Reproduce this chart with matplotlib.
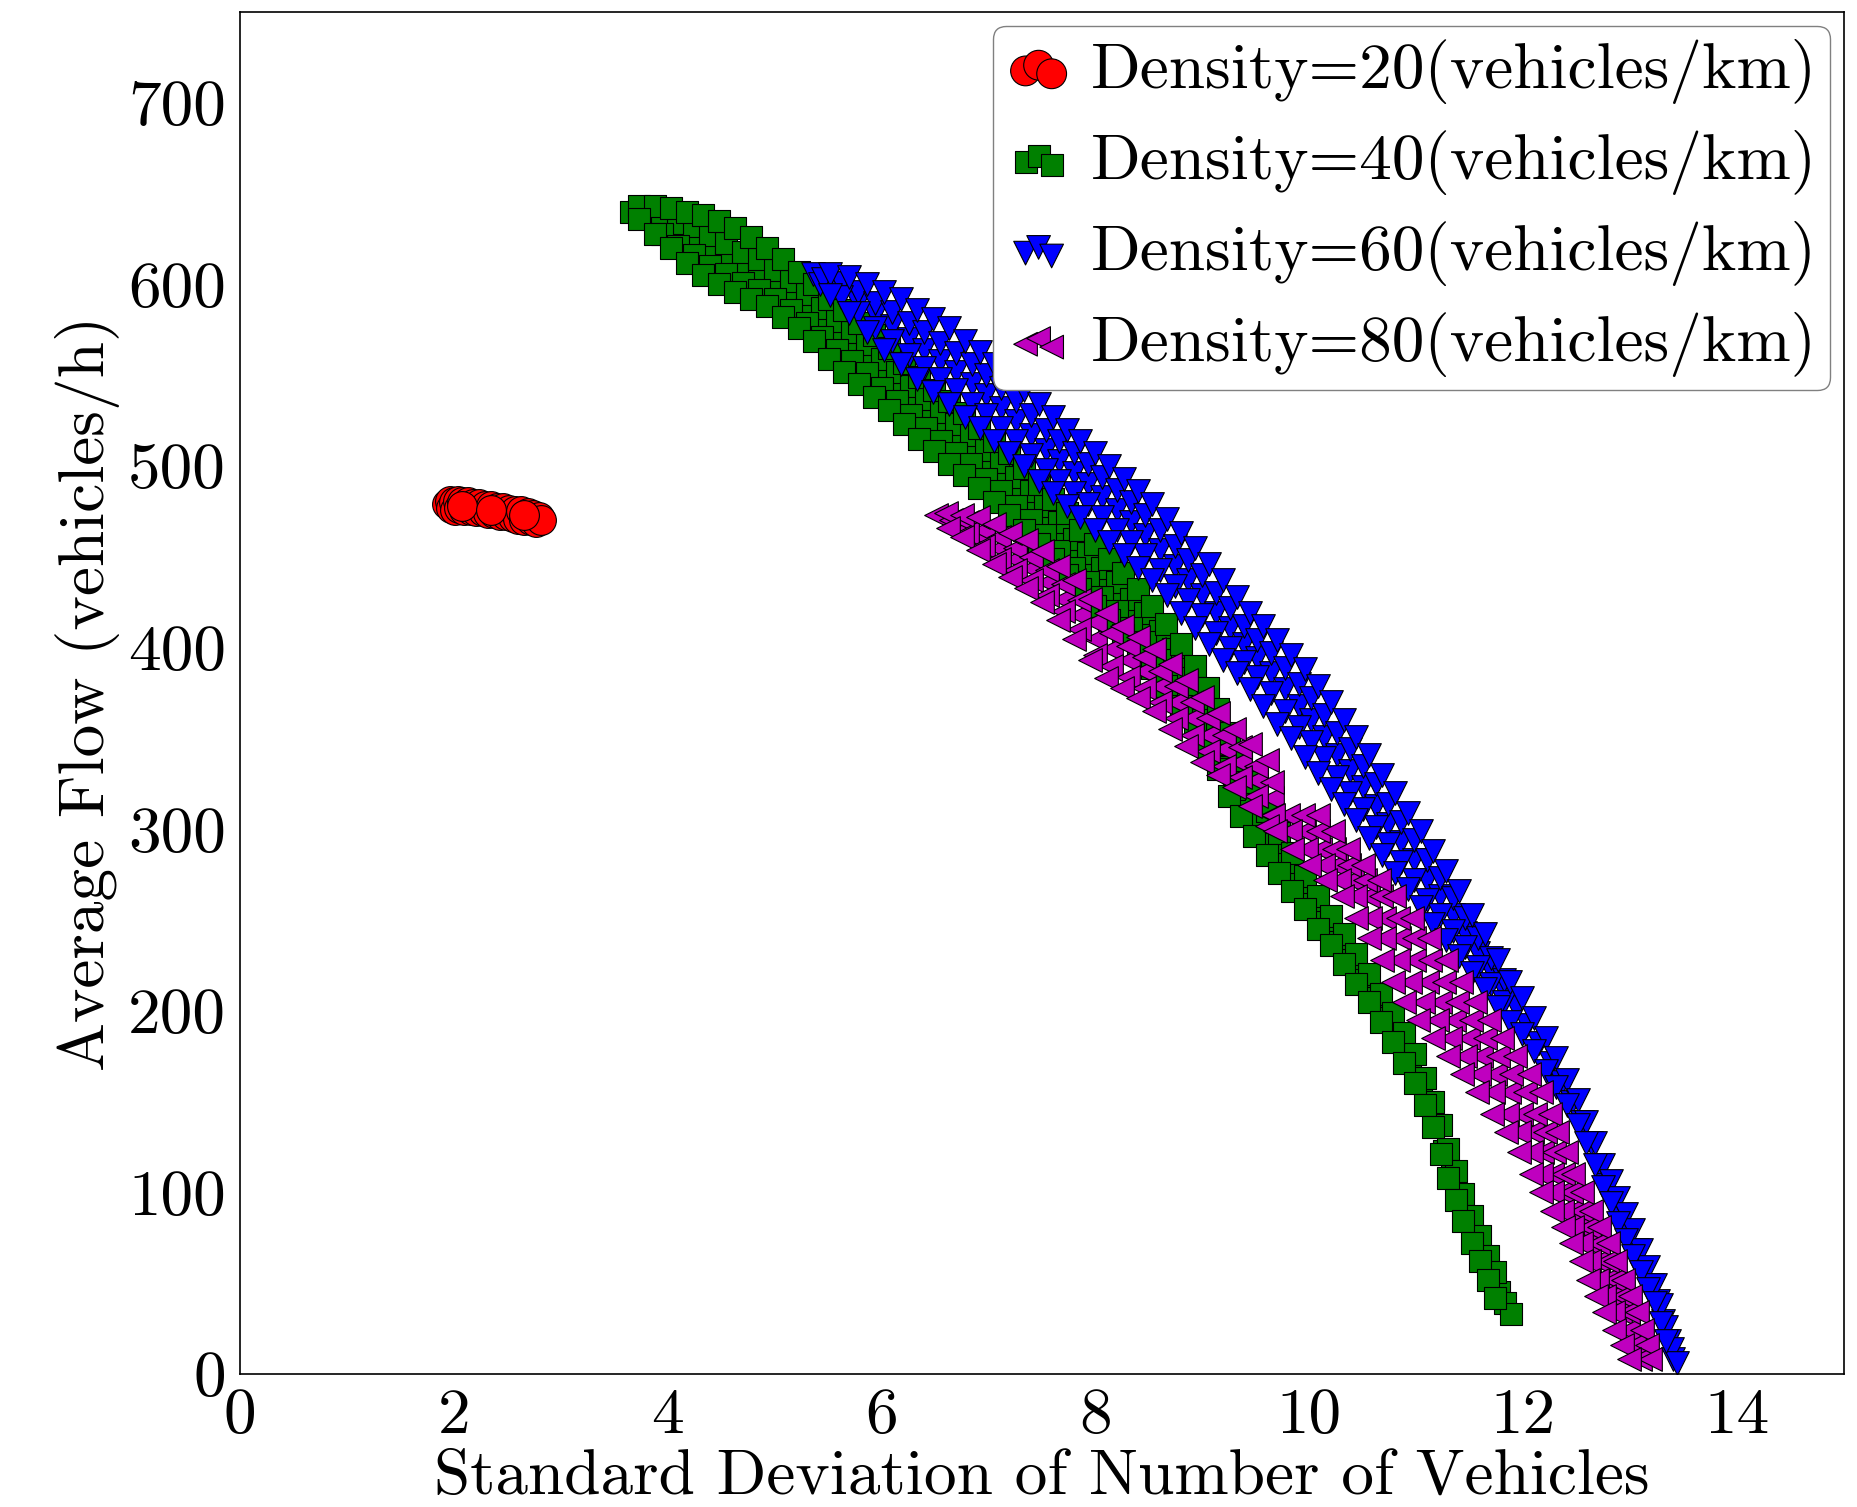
import matplotlib
matplotlib.use("Agg")
import matplotlib.pyplot as plt

plt.rcParams["font.family"] = "serif"
plt.rcParams["font.serif"] = ["cmr10"]
plt.rcParams["mathtext.fontset"] = "cm"
plt.rcParams["axes.unicode_minus"] = False

labels = ["Density=20(vehicles/km)", "Density=40(vehicles/km)",
          "Density=60(vehicles/km)", "Density=80(vehicles/km)"]

# (std of number of vehicles, average flow)
red_pts = [(1.94, 479), (1.96, 481), (1.97, 477), (2.00, 480), (2.01, 476), (2.04, 481),
           (2.05, 477), (2.08, 480), (2.10, 476), (2.13, 480), (2.16, 476), (2.18, 479),
           (2.21, 475), (2.24, 479), (2.27, 475), (2.29, 478), (2.32, 474), (2.35, 478),
           (2.38, 474), (2.40, 477), (2.43, 473), (2.46, 477), (2.49, 473), (2.52, 476),
           (2.55, 472), (2.57, 475), (2.60, 471), (2.63, 475), (2.66, 470), (2.69, 474),
           (2.72, 470), (2.74, 473), (2.77, 469), (2.80, 472), (2.82, 470),
           (2.08, 478), (2.35, 476), (2.66, 473)]

green_pts = [
    # middle of the band
    (3.66, 640), (3.80, 637), (3.95, 633), (4.10, 628), (4.25, 624), (4.40, 619), (4.55, 615),
    (4.70, 610), (4.85, 606), (5.00, 600), (5.15, 594), (5.30, 587), (5.44, 579), (5.58, 572),
    (5.72, 566), (5.86, 559), (6.00, 551), (6.14, 544), (6.28, 536), (6.42, 529), (6.56, 522),
    (6.70, 515), (6.84, 509), (6.98, 501), (7.12, 494), (7.26, 486), (7.40, 478), (7.53, 470),
    (7.66, 461), (7.80, 452), (7.93, 444), (8.06, 436), (8.20, 428), (8.33, 419), (8.46, 411),
    (8.60, 401), (8.73, 391), (8.86, 380), (9.00, 368), (9.10, 355), (9.20, 342), (9.30, 330),
    (9.42, 317), (9.54, 304), (9.66, 292), (9.78, 281), (9.90, 270), (10.02, 259), (10.14, 249),
    (10.26, 238), (10.38, 228), (10.50, 217), (10.61, 207), (10.72, 196), (10.83, 185),
    (10.94, 173), (11.04, 161), (11.12, 150), (11.19, 137), (11.26, 123), (11.33, 110),
    (11.40, 97), (11.48, 85), (11.56, 74), (11.63, 64), (11.70, 54), (11.77, 45), (11.83, 39),
    (11.89, 33),
    # upper half
    (3.95, 638), (4.10, 634), (4.25, 632), (4.40, 627), (4.55, 623), (4.70, 618), (4.85, 614),
    (5.00, 608), (5.15, 602), (5.30, 595), (5.44, 587), (5.58, 580), (5.72, 574), (5.86, 567),
    (6.00, 559), (6.14, 552), (6.28, 544), (6.42, 537), (6.56, 530), (6.70, 523), (6.84, 517),
    (6.98, 509), (7.12, 502), (7.26, 494), (7.40, 486), (7.53, 478), (7.66, 469), (7.80, 460),
    (7.93, 452), (8.06, 444), (8.20, 436), (8.33, 427), (8.46, 419), (8.60, 409), (8.73, 399),
    (8.86, 388), (9.00, 376), (9.10, 363), (9.20, 350), (9.30, 338),
    # lower half
    (3.95, 628), (4.10, 621), (4.25, 616), (4.40, 610), (4.55, 606), (4.70, 601), (4.85, 597),
    (5.00, 592), (5.15, 586), (5.30, 579), (5.44, 571), (5.58, 564), (5.72, 558), (5.86, 551),
    (6.00, 543), (6.14, 536), (6.28, 528), (6.42, 521), (6.56, 514), (6.70, 507), (6.84, 501),
    (6.98, 493), (7.12, 486), (7.26, 478), (7.40, 470), (7.53, 462), (7.66, 453), (7.80, 444),
    (7.93, 436), (8.06, 428), (8.20, 420), (8.33, 411), (8.46, 403), (8.60, 393), (8.73, 383),
    (8.86, 372), (9.00, 360), (9.10, 347), (9.20, 334), (9.30, 322),
    # upper edge
    (3.73, 643), (3.88, 643), (4.03, 642), (4.18, 640), (4.33, 638), (4.48, 635), (4.63, 631),
    (4.78, 626), (4.93, 620), (5.08, 614), (5.23, 607), (5.37, 600), (5.51, 592), (5.65, 586),
    (5.79, 579), (5.93, 572), (6.07, 565), (6.21, 557), (6.35, 549), (6.49, 542), (6.63, 536),
    (6.77, 529), (6.91, 521), (7.05, 514), (7.19, 507), (7.33, 499), (7.47, 490), (7.60, 482),
    (7.73, 474), (7.86, 465), (8.00, 457), (8.13, 449), (8.26, 441), (8.40, 432), (8.53, 423),
    (8.66, 413), (8.80, 402), (8.93, 390), (9.05, 378), (9.15, 366), (9.25, 353), (9.36, 341),
    (9.48, 326), (9.60, 310), (9.72, 298), (9.84, 287), (9.96, 274), (10.08, 263), (10.20, 252),
    (10.32, 242), (10.44, 231), (10.56, 220), (10.67, 209), (10.78, 199), (10.89, 188),
    (10.99, 176), (11.08, 163), (11.16, 150), (11.23, 137), (11.30, 124), (11.37, 112),
    (11.44, 99), (11.52, 87), (11.60, 76), (11.67, 65), (11.74, 56),
    # lower edge
    (3.73, 636), (3.88, 628), (4.03, 620), (4.18, 612), (4.33, 605), (4.48, 600), (4.63, 596),
    (4.78, 592), (4.93, 588), (5.08, 582), (5.23, 576), (5.37, 569), (5.51, 559), (5.65, 552),
    (5.79, 545), (5.93, 538), (6.07, 531), (6.21, 523), (6.35, 515), (6.49, 508), (6.63, 501),
    (6.77, 495), (6.91, 488), (7.05, 480), (7.19, 473), (7.33, 465), (7.47, 457), (7.60, 449),
    (7.73, 440), (7.86, 432), (8.00, 423), (8.13, 415), (8.26, 407), (8.40, 398), (8.53, 389),
    (8.66, 379), (8.80, 368), (8.93, 357), (9.05, 345), (9.15, 333), (9.25, 318), (9.36, 307),
    (9.48, 296), (9.60, 286), (9.72, 276), (9.84, 266), (9.96, 256), (10.08, 245), (10.20, 236),
    (10.32, 226), (10.44, 215), (10.56, 205), (10.67, 194), (10.78, 183), (10.89, 171),
    (10.99, 160), (11.08, 148), (11.16, 136), (11.23, 121), (11.30, 108), (11.37, 96),
    (11.44, 84), (11.52, 72), (11.60, 62), (11.67, 52), (11.74, 42),
]

blue_pts = [
    # middle
    (5.36, 606), (5.42, 600),
    (5.45, 603), (5.62, 597), (5.78, 590), (5.94, 583), (6.10, 577), (6.26, 570), (6.40, 564),
    (6.55, 558), (6.70, 552), (6.85, 545), (6.98, 539), (7.12, 532), (7.26, 525), (7.40, 517),
    (7.54, 509), (7.66, 503), (7.80, 496), (7.93, 490), (8.06, 483), (8.20, 476), (8.33, 469),
    (8.46, 462), (8.60, 454), (8.74, 445), (8.87, 437), (9.00, 429), (9.13, 419), (9.26, 411),
    (9.39, 402), (9.51, 394), (9.64, 386), (9.77, 377), (9.90, 368), (10.02, 360), (10.14, 351),
    (10.26, 341), (10.38, 332), (10.50, 323), (10.62, 313), (10.74, 303), (10.86, 293),
    (10.98, 283), (11.10, 272), (11.22, 263), (11.34, 253), (11.46, 243), (11.58, 232),
    (11.70, 222), (11.82, 211), (11.93, 202), (12.04, 192), (12.15, 182), (12.26, 171),
    (12.36, 161), (12.46, 150), (12.55, 139), (12.63, 127), (12.71, 115), (12.78, 104),
    (12.85, 95), (12.92, 86), (12.99, 78), (13.06, 68), (13.13, 58), (13.20, 49), (13.26, 40),
    (13.31, 29), (13.36, 18), (13.40, 8),
    # upper half
    (5.62, 601), (5.78, 596), (5.94, 590), (6.10, 585), (6.26, 579), (6.40, 574), (6.55, 568),
    (6.70, 562), (6.85, 556), (6.98, 550), (7.12, 543), (7.26, 536), (7.40, 528), (7.54, 520),
    (7.66, 514), (7.80, 507), (7.93, 501), (8.06, 494), (8.20, 487), (8.33, 480), (8.46, 473),
    (8.60, 465), (8.74, 456), (8.87, 448), (9.00, 440), (9.13, 430), (9.26, 422), (9.39, 412),
    (9.51, 404), (9.64, 397), (9.77, 389), (9.90, 380), (10.02, 372), (10.14, 363), (10.26, 353),
    (10.38, 344), (10.50, 335), (10.62, 325), (10.74, 314), (10.86, 304), (10.98, 294),
    (11.10, 283), (11.22, 273), (11.34, 262), (11.46, 251), (11.58, 240), (11.70, 229),
    (11.82, 217),
    # lower half
    (5.62, 593), (5.78, 584), (5.94, 576), (6.10, 569), (6.26, 561), (6.40, 554), (6.55, 548),
    (6.70, 542), (6.85, 534), (6.98, 528), (7.12, 521), (7.26, 514), (7.40, 506), (7.54, 498),
    (7.66, 492), (7.80, 485), (7.93, 479), (8.06, 472), (8.20, 465), (8.33, 458), (8.46, 451),
    (8.60, 443), (8.74, 434), (8.87, 426), (9.00, 418), (9.13, 408), (9.26, 400), (9.39, 392),
    (9.51, 384), (9.64, 375), (9.77, 365), (9.90, 356), (10.02, 348), (10.14, 339), (10.26, 329),
    (10.38, 320), (10.50, 311), (10.62, 301), (10.74, 292), (10.86, 282), (10.98, 272),
    (11.10, 261), (11.22, 253), (11.34, 244), (11.46, 235), (11.58, 224), (11.70, 215),
    (11.82, 205),
    # upper edge
    (5.52, 606), (5.70, 604), (5.86, 600), (6.02, 596), (6.18, 592), (6.33, 586), (6.48, 581),
    (6.63, 576), (6.78, 569), (6.92, 563), (7.05, 556), (7.19, 549), (7.33, 542), (7.47, 534),
    (7.60, 527), (7.73, 520), (7.86, 514), (8.00, 507), (8.13, 500), (8.27, 493), (8.40, 486),
    (8.53, 479), (8.67, 471), (8.80, 463), (8.93, 455), (9.06, 446), (9.19, 437), (9.32, 428),
    (9.45, 419), (9.57, 412), (9.70, 404), (9.83, 396), (9.96, 388), (10.08, 379), (10.20, 370),
    (10.32, 360), (10.44, 351), (10.56, 341), (10.68, 330), (10.80, 320), (10.92, 309),
    (11.04, 299), (11.16, 288), (11.28, 277), (11.40, 266), (11.52, 253), (11.64, 242),
    (11.76, 228), (11.88, 216), (11.99, 207), (12.10, 196), (12.21, 185), (12.31, 174),
    (12.41, 162), (12.51, 151), (12.59, 139), (12.67, 127), (12.75, 115), (12.82, 106),
    (12.89, 97), (12.96, 88), (13.03, 79), (13.10, 68), (13.17, 59), (13.23, 49), (13.29, 38),
    (13.34, 26), (13.39, 14), (13.44, 6),
    # lower edge
    (5.52, 594), (5.70, 584), (5.86, 574), (6.02, 564), (6.18, 556), (6.33, 548), (6.48, 541),
    (6.63, 534), (6.78, 527), (6.92, 521), (7.05, 514), (7.19, 507), (7.33, 500), (7.47, 492),
    (7.60, 485), (7.73, 478), (7.86, 472), (8.00, 465), (8.13, 458), (8.27, 451), (8.40, 444),
    (8.53, 437), (8.67, 429), (8.80, 419), (8.93, 411), (9.06, 402), (9.19, 393), (9.32, 386),
    (9.45, 377), (9.57, 368), (9.70, 358), (9.83, 350), (9.96, 340), (10.08, 331), (10.20, 322),
    (10.32, 314), (10.44, 305), (10.56, 295), (10.68, 286), (10.80, 276), (10.92, 267),
    (11.04, 257), (11.16, 248), (11.28, 239), (11.40, 230), (11.52, 221), (11.64, 212),
    (11.76, 202), (11.88, 194), (11.99, 187), (12.10, 178), (12.21, 167), (12.31, 158),
    (12.41, 148), (12.51, 137), (12.59, 127), (12.67, 115), (12.75, 103), (12.82, 94),
    (12.89, 83), (12.96, 74), (13.03, 65), (13.10, 56), (13.17, 47), (13.23, 39), (13.29, 28),
    (13.34, 18),
]

magenta_pts = [
    # middle
    (6.51, 473), (6.65, 470), (6.80, 466), (6.95, 461), (7.10, 455), (7.25, 449), (7.40, 444),
    (7.55, 436), (7.70, 427), (7.85, 418), (8.00, 405), (8.15, 399), (8.30, 393), (8.45, 387),
    (8.60, 379), (8.75, 370), (8.90, 361), (9.05, 352), (9.20, 344), (9.35, 337), (9.50, 327),
    (9.65, 317), (9.80, 308), (9.95, 299), (10.10, 289), (10.25, 280), (10.40, 272),
    (10.55, 263), (10.70, 251), (10.84, 240), (10.98, 228), (11.10, 216), (11.22, 205),
    (11.35, 195), (11.48, 185), (11.61, 175), (11.74, 165), (11.87, 155), (11.98, 143),
    (12.08, 133), (12.18, 122), (12.27, 110), (12.36, 100), (12.45, 90), (12.54, 81),
    (12.62, 72), (12.70, 62), (12.77, 52), (12.84, 43), (12.91, 34), (12.98, 24), (13.04, 16),
    (13.09, 8),
    # upper half
    (6.80, 469), (6.95, 465), (7.10, 461), (7.25, 455), (7.40, 450), (7.55, 443), (7.70, 435),
    (7.85, 426), (8.00, 414), (8.15, 408), (8.30, 401), (8.45, 395), (8.60, 387), (8.75, 379),
    (8.90, 370), (9.05, 361), (9.20, 352), (9.35, 345), (9.50, 335), (9.65, 326),
    (9.94, 308), (10.08, 299), (10.23, 289), (10.37, 280), (10.52, 272), (10.67, 263),
    (10.83, 251), (10.98, 240), (11.13, 228), (11.26, 216), (11.38, 205), (11.51, 195),
    (11.64, 185), (11.76, 175), (11.89, 165), (12.02, 155), (12.11, 143), (12.20, 133),
    (12.29, 122), (12.37, 110), (12.45, 100), (12.54, 90), (12.62, 81), (12.70, 72),
    (12.78, 62), (12.85, 52), (12.92, 43), (12.98, 34),
    # lower half
    (6.80, 463), (6.95, 456), (7.10, 449), (7.25, 443), (7.40, 437), (7.55, 429), (7.70, 420),
    (7.85, 410), (8.00, 396), (8.15, 390), (8.30, 384), (8.45, 378), (8.60, 370), (8.75, 361),
    (8.90, 352), (9.05, 343), (9.20, 335), (9.35, 329), (9.50, 318), (9.65, 308),
    (9.66, 308), (9.82, 299), (9.97, 289), (10.13, 280), (10.28, 272), (10.43, 263),
    (10.57, 251), (10.70, 240), (10.83, 228), (10.94, 216), (11.06, 205), (11.19, 195),
    (11.32, 185), (11.46, 175), (11.59, 165), (11.72, 155), (11.85, 143), (11.96, 133),
    (12.07, 122), (12.17, 110), (12.27, 100), (12.36, 90), (12.46, 81), (12.54, 72),
    (12.62, 62), (12.69, 52), (12.76, 43), (12.84, 34),
    # upper / right edge
    (6.60, 474), (6.75, 473), (6.90, 472), (7.05, 468), (7.20, 463), (7.35, 459), (7.50, 453),
    (7.65, 445), (7.80, 437), (7.95, 427), (8.10, 419), (8.25, 412), (8.40, 406), (8.55, 399),
    (8.70, 391), (8.85, 382), (9.00, 373), (9.15, 364), (9.30, 355), (9.45, 347), (9.60, 338),
    (10.08, 308), (10.22, 299), (10.36, 289), (10.50, 280), (10.65, 272), (10.79, 263),
    (10.96, 251), (11.12, 240), (11.28, 228), (11.42, 216), (11.55, 205), (11.68, 195),
    (11.80, 185), (11.92, 175), (12.05, 165), (12.17, 155), (12.25, 143), (12.32, 133),
    (12.40, 122), (12.47, 110), (12.55, 100), (12.63, 90), (12.71, 81), (12.79, 72),
    (12.86, 62), (12.93, 52), (13.00, 43), (13.06, 34), (13.11, 24), (13.16, 16), (13.19, 8),
    # lower / left edge
    (6.62, 466), (6.75, 461), (6.90, 454), (7.05, 446), (7.20, 439), (7.35, 433), (7.50, 425),
    (7.65, 415), (7.80, 405), (7.95, 393), (8.10, 383), (8.25, 378), (8.40, 372), (8.55, 365),
    (8.70, 355), (8.85, 346), (9.00, 337), (9.15, 330), (9.30, 323), (9.45, 313), (9.60, 302),
    (9.68, 299), (9.84, 289), (10.00, 280), (10.15, 272), (10.31, 263), (10.44, 251),
    (10.56, 240), (10.68, 228), (10.78, 216), (10.89, 205), (11.02, 195), (11.16, 185),
    (11.30, 175), (11.43, 165), (11.57, 155), (11.71, 143), (11.84, 133), (11.96, 122),
    (12.07, 110), (12.17, 100), (12.27, 90), (12.37, 81), (12.45, 72), (12.54, 62),
    (12.61, 52), (12.68, 43), (12.76, 34), (12.85, 24), (12.92, 16), (12.99, 8),
]

series = [
    (red_pts, "r", "o", 460),
    (green_pts, "g", "s", 250),
    (blue_pts, "b", "v", 290),
    (magenta_pts, "m", "<", 290),
]

fig = plt.figure(figsize=(18.57, 15.07), dpi=100)
ax = fig.add_axes([0.1292, 0.0883, 0.8638, 0.9037])

for (pts, col, mk, size), lab in zip(series, labels):
    xs = [p[0] for p in pts]
    ys = [p[1] for p in pts]
    ax.scatter(xs, ys, s=size, c=col, marker=mk, edgecolors="k",
               linewidths=0.8, label=lab)

ax.set_xlim(0, 15)
ax.set_ylim(0, 750)
ax.set_xticks(range(0, 15, 2))
ax.set_yticks(range(0, 701, 100))
ax.tick_params(length=0, labelsize=47, pad=10)
for sp in ax.spines.values():
    sp.set_linewidth(1.2)

ax.set_xlabel("Standard Deviation of Number of Vehicles", fontsize=47, labelpad=2)
ax.set_ylabel("Average Flow (vehicles/h)", fontsize=47, labelpad=6)

ax.legend(loc="upper right", bbox_to_anchor=(1830 / 1857, 1 - 26 / 1507),
          bbox_transform=fig.transFigure, scatterpoints=3, fontsize=47,
          borderaxespad=0, borderpad=0.2, handlelength=1.0, handletextpad=0.3,
          labelspacing=0.40, fancybox=True, framealpha=1, edgecolor="0.5")

fig.savefig("out.png", dpi=100)
